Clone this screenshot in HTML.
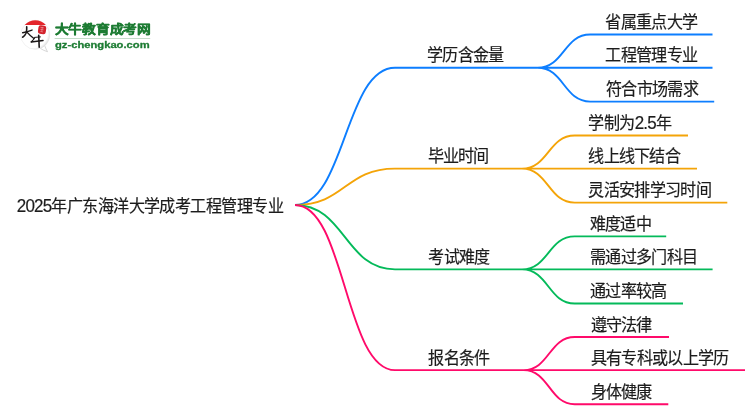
<!DOCTYPE html>
<html lang="zh-CN">
<head>
<meta charset="utf-8">
<title>2025年广东海洋大学成考工程管理专业</title>
<style>
html,body{margin:0;padding:0;background:#fff;}
body{width:750px;height:410px;overflow:hidden;position:relative;font-family:"Liberation Sans",sans-serif;}
svg{position:absolute;left:0;top:0;display:block;will-change:transform}
.lines path{fill:none;stroke-width:1.9;stroke-linecap:butt;stroke-linejoin:round}
text{font-family:"Liberation Sans",sans-serif;}
.t{font-size:17.5px;fill:#1c1c1c;stroke:#1c1c1c;stroke-width:0.2px}
.d{font-size:18.5px}
.g1{font-size:12px;font-weight:bold;fill:#1d7c33;stroke:#1d7c33;stroke-width:0.45px;stroke-linejoin:round}
.g2{font-size:9px;font-weight:bold;fill:#1d7c33;stroke:#1d7c33;stroke-width:0.3px;stroke-linejoin:round}
</style>
</head>
<body>
<svg width="750" height="410" viewBox="0 0 750 410">
<g class="lines">
<path d="M295.0,205.0C345.0,205.0 345.0,67.8 395.0,67.8H537.6M537.6,67.8C563.9,67.8 563.9,34.5 590.1,34.5H712.5M537.6,67.8H712.5M537.6,67.8C563.9,67.8 563.9,101.6 590.1,101.6H714.2" stroke="#0d7eff"/>
<path d="M295.0,205.0C345.0,205.0 345.0,168.6 395.0,168.6H521.9M521.9,168.6C548.3,168.6 548.3,135.5 574.7,135.5H688.0M521.9,168.6H697.0M521.9,168.6C548.3,168.6 548.3,202.6 574.7,202.6H727.3" stroke="#f4a408"/>
<path d="M295.0,205.0C345.0,205.0 345.0,269.4 395.0,269.4H522.0M522.0,269.4C548.4,269.4 548.4,236.4 574.7,236.4H666.2M522.0,269.4H712.6M522.0,269.4C548.4,269.4 548.4,303.5 574.7,303.5H683.0" stroke="#04ba5a"/>
<path d="M295.0,205.0C345.0,205.0 345.0,370.1 395.0,370.1H523.6M523.6,370.1C549.2,370.1 549.2,337.0 574.7,337.0H669.0M523.6,370.1H745.0M523.6,370.1C549.2,370.1 549.2,404.2 574.7,404.2H668.3" stroke="#ff0a6a"/>
</g>
<defs>
<radialGradient id="bub" cx="0.40" cy="0.42" r="0.66">
<stop offset="0.80" stop-color="#ffffff"/>
<stop offset="1" stop-color="#d4d4d4"/>
</radialGradient>
</defs>
<g class="logo">
<path d="M44.6,45.4 Q46.0,49.2 47.5,51.7 Q43.6,50.6 40.4,48.4 Z" fill="#fff" stroke="#bdbdbd" stroke-width="0.6" stroke-linejoin="round"/>
<circle cx="35.3" cy="34.8" r="14.5" fill="url(#bub)" stroke="#dedede" stroke-width="0.4"/>
<path d="M24.7,24.9 A14.5,14.5 0 0 1 45.9,24.9 Z" fill="#e4252b"/>
<g transform="rotate(8 42 29.4)">
<rect x="38.2" y="25.4" width="7.9" height="8.7" rx="2.3" ry="2.3" fill="#d3222c"/>
<path d="M40.2,27.6h3.4M40.4,29.6h3.2M42,27v4.6M40.6,31.6l2.8,0.2" stroke="#f0a3a6" stroke-width="0.55" fill="none"/>
</g>
<g fill="none" stroke="#1a1616" stroke-linecap="round" stroke-linejoin="round">
<path d="M22.7,32.7 Q27.5,31.6 32.0,30.1" stroke-width="1.5"/>
<path d="M26.7,26.9 Q27.0,30.5 26.0,33.2 Q24.8,36.0 22.6,37.2" stroke-width="1.6"/>
<path d="M27.2,32.4 Q30.0,35.6 33.6,38.2" stroke-width="1.4"/>
<path d="M34.6,38.0 Q33.2,40.2 31.4,41.8" stroke-width="1.2"/>
<path d="M34.6,37.4 L40.4,36.9" stroke-width="1.0"/>
<path d="M31.2,42.0 Q37.0,41.2 43.0,40.5" stroke-width="1.5"/>
<path d="M38.7,35.2 Q39.0,41.0 39.2,47.2" stroke-width="1.6"/>
</g>
<text class="g1" x="54.6" y="34.4" textLength="96.3" lengthAdjust="spacingAndGlyphs">大牛教育成考网</text>
<rect x="54.6" y="38.0" width="95.6" height="1" fill="#c4dcc9"/>
<text class="g2" x="55.0" y="47.7" textLength="94.6" lengthAdjust="spacingAndGlyphs">gz-chengkao.com</text>
</g>

<g class="labels">
<text class="t" transform="translate(16.8,212.3) scale(0.92,1)" textLength="290.22" lengthAdjust="spacing"><tspan class="d">2025</tspan>年广东海洋大学成考工程管理专业</text>
<text class="t" transform="translate(605.4,28.1) scale(0.92,1)" textLength="100.89" lengthAdjust="spacing">省属重点大学</text>
<text class="t" transform="translate(605.4,61.4) scale(0.92,1)" textLength="100.89" lengthAdjust="spacing">工程管理专业</text>
<text class="t" transform="translate(606.0,95.2) scale(0.92,1)" textLength="100.89" lengthAdjust="spacing">符合市场需求</text>
<text class="t" transform="translate(427.0,61.4) scale(0.92,1)" textLength="84.08" lengthAdjust="spacing">学历含金量</text>
<text class="t" transform="translate(588.2,129.1) scale(0.92,1)" textLength="91.33" lengthAdjust="spacing">学制为<tspan class="d">2.5</tspan>年</text>
<text class="t" transform="translate(588.2,162.2) scale(0.92,1)" textLength="100.89" lengthAdjust="spacing">线上线下结合</text>
<text class="t" transform="translate(588.2,196.2) scale(0.92,1)" textLength="134.52" lengthAdjust="spacing">灵活安排学习时间</text>
<text class="t" transform="translate(427.9,162.2) scale(0.92,1)" textLength="66.28" lengthAdjust="spacing">毕业时间</text>
<text class="t" transform="translate(590.0,230.0) scale(0.92,1)" textLength="67.26" lengthAdjust="spacing">难度适中</text>
<text class="t" transform="translate(590.0,263.0) scale(0.92,1)" textLength="117.71" lengthAdjust="spacing">需通过多门科目</text>
<text class="t" transform="translate(590.0,297.1) scale(0.92,1)" textLength="84.08" lengthAdjust="spacing">通过率较高</text>
<text class="t" transform="translate(428.3,262.5) scale(0.92,1)" textLength="67.26" lengthAdjust="spacing">考试难度</text>
<text class="t" transform="translate(590.5,330.6) scale(0.92,1)" textLength="67.26" lengthAdjust="spacing">遵守法律</text>
<text class="t" transform="translate(590.5,363.8) scale(0.92,1)" textLength="151.34" lengthAdjust="spacing">具有专科或以上学历</text>
<text class="t" transform="translate(590.5,397.8) scale(0.92,1)" textLength="67.26" lengthAdjust="spacing">身体健康</text>
<text class="t" transform="translate(428.3,363.6) scale(0.92,1)" textLength="67.91" lengthAdjust="spacing">报名条件</text>
</g>
</svg>
</body>
</html>
